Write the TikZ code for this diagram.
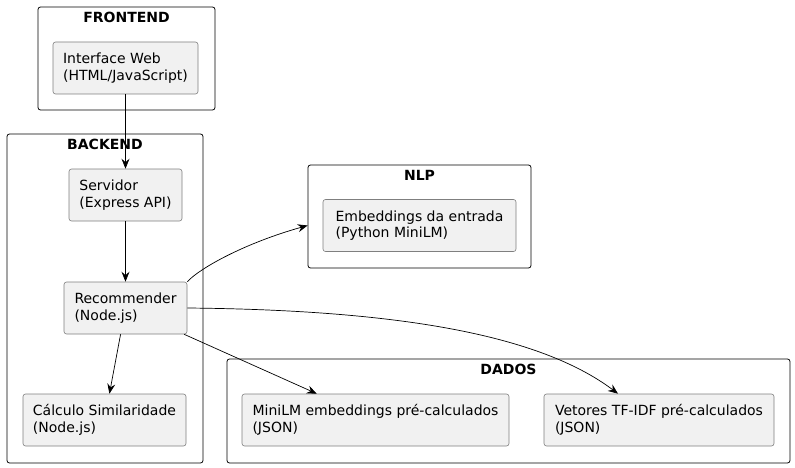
\documentclass[tikz,border=0pt]{standalone}
\usepackage{fontspec}
\setmainfont{DejaVu Sans}
\usepackage{tikz}
\usetikzlibrary{arrows.meta}
\usetikzlibrary{positioning}
\definecolor{cfill}{HTML}{F1F1F1}
\definecolor{cedge}{HTML}{7F7F7F}

\begin{document}
\begin{tikzpicture}[x=1pt,y=-1pt,
		comp/.style={draw=cedge,fill=cfill,rounded corners=2.5pt,line width=0.6pt,
			align=left,minimum height=52,inner sep=0pt,
			font=\fontsize{14}{16.5}\selectfont},
		pack/.style={draw,rounded corners=2.5pt,line width=0.8pt,inner sep=0pt},
		packtitle/.style={anchor=north,inner sep=0pt,yshift=-5pt,
			font=\fontsize{14}{16}\selectfont\bfseries},
		flow/.style={-{Stealth[length=10pt,width=8pt,inset=3.5pt]},line width=0.7pt}
	]
	\useasboundingbox (0,0) rectangle (795,468);

	% the packages
	\node[pack,minimum width=177,minimum height=103] (front) at (126.5,58.5) {};
	\node[pack,minimum width=196,minimum height=329] (back) at (105,298.5) {};
	\node[pack,minimum width=223,minimum height=103] (nlp) at (419.5,216.5) {};
	\node[pack,minimum width=563,minimum height=104] (dados) at (508.5,411) {};
	\foreach \p/\t in {front/FRONTEND,back/BACKEND,nlp/NLP,dados/DADOS}
		\node[packtitle] (\p-title) at (\p.north) {\t};

	% the components
	\node[comp,minimum width=145] (web) at (125.5,68) {Interface Web\\(HTML/JavaScript)};
	\node[comp,minimum width=113] (srv) at (125.5,195) {Servidor\\(Express API)};
	\node[comp,minimum width=123] (rec) at (125.5,308) {Recommender\\(Node.js)};
	\node[comp,minimum width=163] (calc) at (104.5,420) {Cálculo Similaridade\\(Node.js)};
	\node[comp,minimum width=193] (emb) at (419.5,225.5) {Embeddings da entrada\\(Python MiniLM)};
	\node[comp,minimum width=267] (mini) at (375.5,420) {MiniLM embeddings pré-calculados\\(JSON)};
	\node[comp,minimum width=230] (tfidf) at (659,420) {Vetores TF-IDF pré-calculados\\(JSON)};

	% the edges
	\draw[flow] (web) -- (srv);
	\draw[flow] (srv) -- (rec);
	\draw[flow] (rec) -- (calc);
	\draw[flow] (rec) -- (mini);
	\draw[flow] (rec.north east) .. controls (200,268) and (245,243) .. (nlp.west |- emb);
	\draw[flow] (rec.east) .. controls (400,310) and (540,335) .. ([xshift=-41pt]tfidf.north);
\end{tikzpicture}
\end{document}
